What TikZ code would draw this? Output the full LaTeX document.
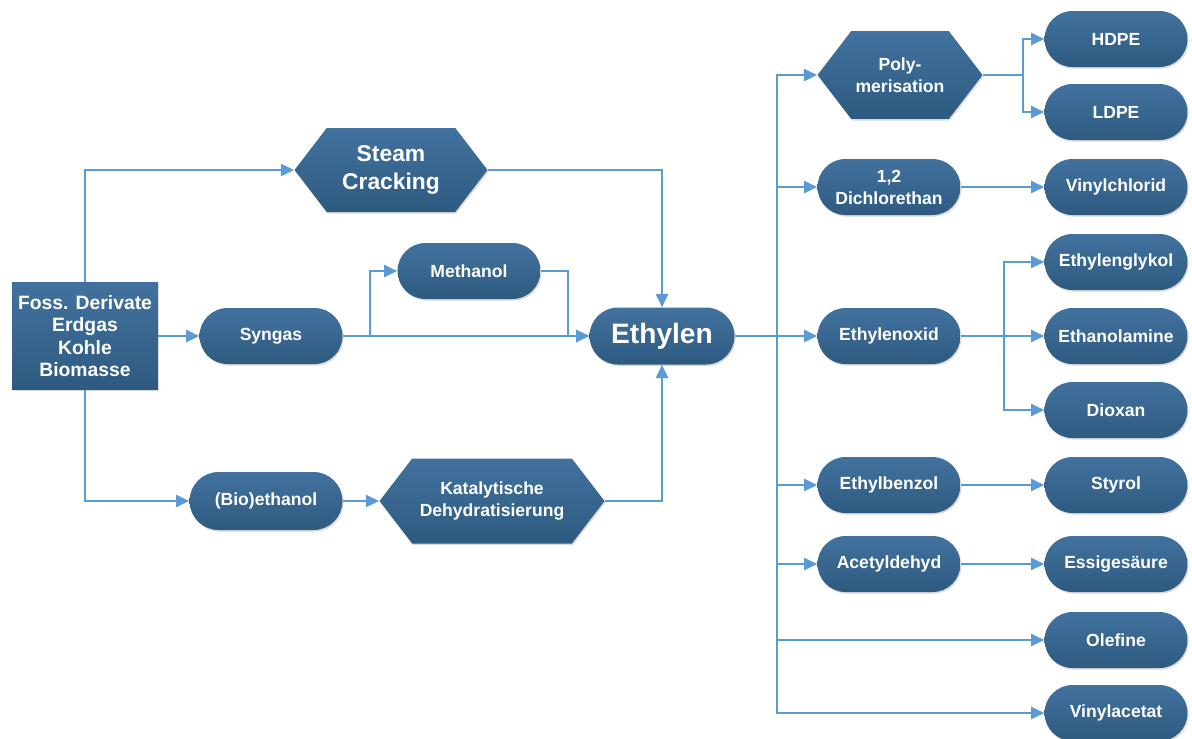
\documentclass[tikz,border=0pt]{standalone}
\usepackage{fontspec}
\setmainfont{Liberation Sans}
\usetikzlibrary{shapes.misc,shapes.symbols,arrows.meta,shadows}

\definecolor{boxtop}{HTML}{41729E}
\definecolor{boxbot}{HTML}{2E5A80}
\definecolor{linie}{HTML}{5B9BD5}

\tikzset{
  box/.style={top color=boxtop,bottom color=boxbot,text=white,align=center,
    font=\bfseries\fontsize{10}{12.5}\selectfont,inner sep=2pt,
    drop shadow={shadow xshift=0.6pt,shadow yshift=-0.9pt,opacity=0.3}},
  proc/.style={box,rounded rectangle,minimum width=3cm,minimum height=1.12cm},
  hexa/.style={box,signal,signal to=east and west,signal pointer angle=105},
  conn/.style={linie,line width=0.95pt,-{Triangle[length=7.5pt,width=7pt]}}
}

\begin{document}
\begin{tikzpicture}[x=0.02cm,y=-0.02cm]
   \useasboundingbox (0,0) rectangle (1192,738);

   % Rohstoffe und Wege zum Ethylen
   \node[box,rectangle,minimum width=2.92cm,minimum height=2.14cm,
         font=\bfseries\fontsize{11}{12.8}\selectfont] (src) at (85,336)
         {Foss. Derivate\\Erdgas\\Kohle\\Biomasse};
   \node[hexa,minimum width=3.86cm,minimum height=1.68cm,
         font=\bfseries\fontsize{13}{16}\selectfont] (steam) at (391,170) {Steam\\Cracking};
   \node[proc] (syngas) at (271,336) {Syngas};
   \node[proc] (methanol) at (469,271) {Methanol};
   \node[proc,minimum width=3.04cm,minimum height=1.14cm,
         font=\bfseries\fontsize{16}{18}\selectfont] (ethylen) at (662,336) {Ethylen};
   \node[proc,minimum width=3.2cm,minimum height=1.16cm] (bioeth) at (266,501) {(Bio)ethanol};
   \node[hexa,minimum width=4.5cm,minimum height=1.7cm] (dehyd) at (492,501)
         {Katalytische\\Dehydratisierung};

   % Folgeprodukte
   \node[hexa,minimum width=3.3cm,minimum height=1.76cm] (poly) at (900,75) {Poly-\\merisation};
   \node[proc] (hdpe) at (1116,39) {HDPE};
   \node[proc] (ldpe) at (1116,112) {LDPE};
   \node[proc] (dce) at (889,187) {1,2\\Dichlorethan};
   \node[proc] (vc) at (1116,187) {Vinylchlorid};
   \node[proc] (eo) at (889,336) {Ethylenoxid};
   \node[proc] (eg) at (1116,262) {Ethylenglykol};
   \node[proc] (ea) at (1116,336) {Ethanolamine};
   \node[proc] (diox) at (1116,410) {Dioxan};
   \node[proc] (eb) at (889,485) {Ethylbenzol};
   \node[proc] (styrol) at (1116,485) {Styrol};
   \node[proc] (acet) at (889,564) {Acetyldehyd};
   \node[proc] (essig) at (1116,564) {Essigesäure};
   \node[proc] (olef) at (1116,640) {Olefine};
   \node[proc] (vinac) at (1116,713) {Vinylacetat};

   \draw[conn] (src.north) |- (steam.west);
   \draw[conn] (src.south) |- (bioeth.west);
   \draw[conn] (src.east) -- (syngas.west);
   \draw[conn] (syngas.east) -- (ethylen.west);
   \draw[conn] (syngas.east) -- ++(27,0) |- (methanol.west);
   \draw[conn] (methanol.east) -- ++(27,0) |- (ethylen.west);
   \draw[conn] (steam.east) -| (ethylen.north);
   \draw[conn] (bioeth.east) -- (dehyd.west);
   \draw[conn] (dehyd.east) -| (ethylen.south);

   \coordinate (knoten) at (777,336);
   \draw[conn] (ethylen.east) -- (eo.west);
   \draw[conn] (knoten) |- (poly.west);
   \draw[conn] (knoten) |- (dce.west);
   \draw[conn] (knoten) |- (eb.west);
   \draw[conn] (knoten) |- (acet.west);
   \draw[conn] (knoten) |- (olef.west);
   \draw[conn] (knoten) |- (vinac.west);

   \draw[conn] (poly.east) -- ++(40,0) |- (hdpe.west);
   \draw[conn] (poly.east) -- ++(40,0) |- (ldpe.west);
   \draw[conn] (dce.east) -- (vc.west);
   \draw[conn] (eo.east) -- ++(43,0) |- (eg.west);
   \draw[conn] (eo.east) -- (ea.west);
   \draw[conn] (eo.east) -- ++(43,0) |- (diox.west);
   \draw[conn] (eb.east) -- (styrol.west);
   \draw[conn] (acet.east) -- (essig.west);
\end{tikzpicture}
\end{document}
